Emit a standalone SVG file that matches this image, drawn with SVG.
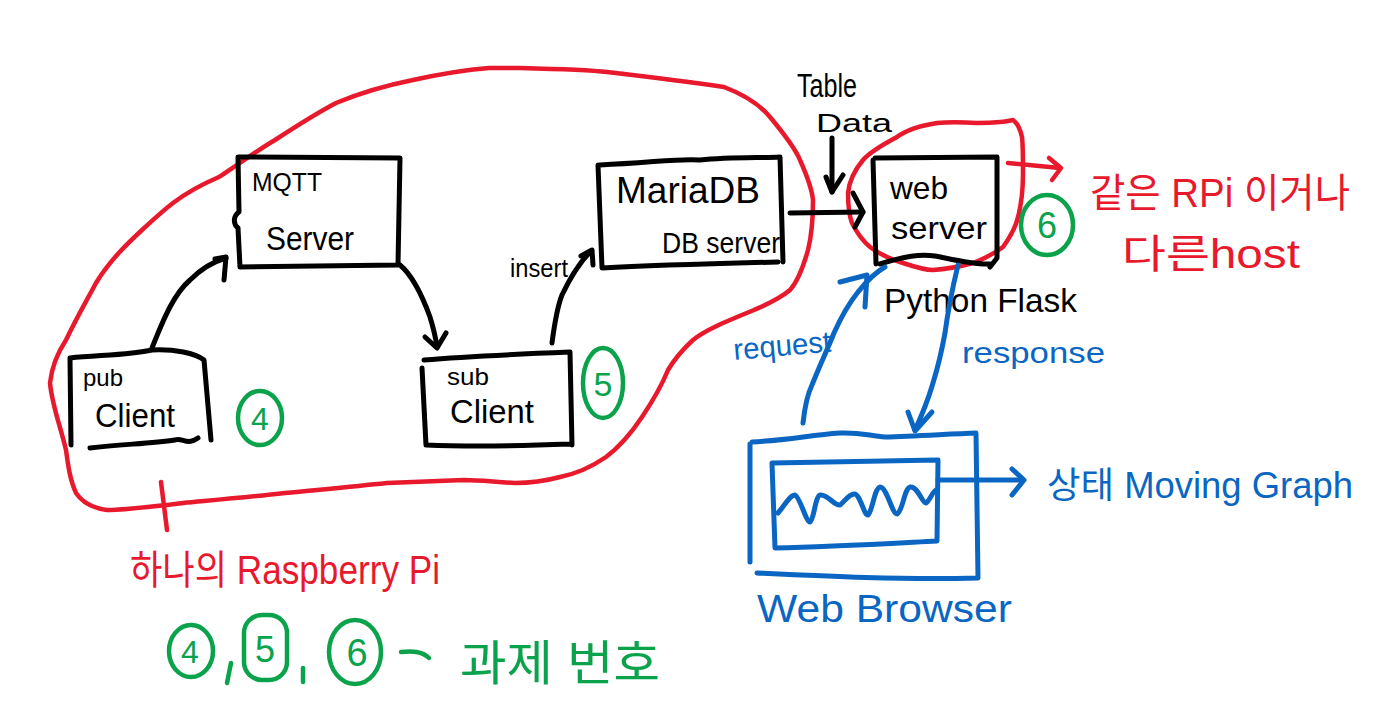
<svg xmlns="http://www.w3.org/2000/svg" width="1395" height="714" viewBox="0 0 1395 714">
<style>
.k{fill:none;stroke:#000;stroke-width:5;stroke-linecap:round;stroke-linejoin:round}
.r{fill:none;stroke:#e8192c;stroke-width:4.5;stroke-linecap:round;stroke-linejoin:round}
.b{fill:none;stroke:#0a66c2;stroke-width:5;stroke-linecap:round;stroke-linejoin:round}
.g{fill:none;stroke:#0aa24b;stroke-width:4.5;stroke-linecap:round;stroke-linejoin:round}
text{font-family:"Liberation Sans","Noto Sans CJK KR",sans-serif;}
.tk{fill:#000}
.tr{fill:#e8192c}
.tb{fill:#0a66c2}
.tg{fill:#0aa24b}
</style>
<rect width="1395" height="714" fill="#fff"/>

<!-- Red group outline (one Raspberry Pi) -->
<g id="rpi-boundary">
<path class="r" d="M520,68 C560,69 590,70 607,72 C650,77 690,82 724,87 C745,95 760,105 770,117 C785,135 795,148 800,160 C808,178 812,190 813,200 C813,220 811,238 808,250 C803,268 797,282 790,290 C778,300 765,305 754,310 C725,322 705,330 693,340 C682,350 674,360 668,370 C660,390 650,405 642,417 C630,435 618,448 606,457 C590,468 575,474 560,477 C545,481 530,483 515,483 C495,482 480,480 464,480 C435,481 410,482 387,483 C350,487 315,490 285,493 C250,497 215,500 183,503 C150,507 125,510 107,510 C92,508 82,502 76,493 C70,480 68,465 66,450 C60,425 52,405 50,383 C52,365 58,352 66,340 C78,315 88,298 96,283 C110,260 128,243 142,230 C155,218 165,209 173,203 C190,190 205,183 219,177 C240,163 258,150 275,140 C295,127 315,114 336,103 C360,93 388,85 413,80 C440,74 465,70 489,68 Z"/>
<path class="r" d="M161,482 L167,530"/>
</g>

<!-- Red loop around web server -->
<g id="webserver-boundary">
<path class="r" d="M937,123 C918,126 905,131 897,137 C882,145 870,152 863,160 C853,172 849,183 848,193 C848,205 849,215 852,223 C858,235 864,242 870,247 C882,256 893,260 903,263 C915,267 925,270 933,270 C950,269 962,266 973,263 C987,258 996,252 1003,247 C1011,236 1016,226 1018,217 C1022,202 1023,187 1023,173 C1023,158 1023,146 1022,137 C1020,128 1017,123 1013,120 C1007,121 1004,122 1000,122 C990,123 984,123 977,123 C960,122 948,122 937,123"/>
</g>

<!-- Nodes -->
<g id="mqtt-server">
<path class="k" d="M238,157 L400,158 L398,265 L240,267 M238,157 L239,212 C233,216 233,224 238,228 L240,267"/>
<text class="tk" x="252" y="191" font-size="26" textLength="70" lengthAdjust="spacingAndGlyphs">MQTT</text>
<text class="tk" x="266" y="250" font-size="34" textLength="88" lengthAdjust="spacingAndGlyphs">Server</text>
</g>

<g id="pub-client">
<path class="k" d="M70,358 C100,355 130,355 152,350 C175,349 195,353 204,360 L211,440 M70,358 L71,445 M90,448 C120,444 150,444 175,440 C182,437 187,446 198,438"/>
<text class="tk" x="83" y="386" font-size="24" textLength="40" lengthAdjust="spacingAndGlyphs">pub</text>
<text class="tk" x="95" y="427" font-size="34" textLength="80" lengthAdjust="spacingAndGlyphs">Client</text>
</g>

<g id="sub-client">
<path class="k" d="M424,360 C470,356 520,354 570,352 L572,445 M422,368 L426,445 C470,447 520,446 570,444"/>
<text class="tk" x="447" y="385" font-size="24" textLength="42" lengthAdjust="spacingAndGlyphs">sub</text>
<text class="tk" x="450" y="423" font-size="34" textLength="84" lengthAdjust="spacingAndGlyphs">Client</text>
</g>

<g id="mariadb">
<path class="k" d="M600,165 C650,163 680,158 700,160 C730,157 760,158 780,157 L783,262 M598,165 L602,268 C640,266 700,264 778,262"/>
<text class="tk" x="616" y="203" font-size="36" textLength="144" lengthAdjust="spacingAndGlyphs">MariaDB</text>
<text class="tk" x="662" y="253" font-size="30" textLength="118" lengthAdjust="spacingAndGlyphs">DB server</text>
</g>

<g id="web-server">
<path class="k" d="M873,160 L876,264 M875,158 L997,157 L997,258 L990,267 M880,264 C905,256 920,254 935,256 C955,260 975,265 990,264"/>
<text class="tk" x="890" y="199" font-size="32" textLength="58" lengthAdjust="spacingAndGlyphs">web</text>
<text class="tk" x="891" y="239" font-size="32" textLength="96" lengthAdjust="spacingAndGlyphs">server</text>
</g>

<g id="python-flask">
<text class="tk" x="884" y="312" font-size="34" textLength="193" lengthAdjust="spacingAndGlyphs">Python Flask</text>
</g>

<g id="table-data">
<text class="tk" x="797" y="97" font-size="34" textLength="60" lengthAdjust="spacingAndGlyphs">Table</text>
<text class="tk" x="816" y="132" font-size="26" textLength="76" lengthAdjust="spacingAndGlyphs">Data</text>
</g>

<g id="web-browser">
<path class="b" d="M752,442 C790,440 810,435 840,433 C860,432 870,436 885,437 C915,436 950,434 976,433 L978,578 M750,444 L750,562 M757,573 C820,576 900,580 978,578"/>
<path class="b" d="M772,463 L938,460 L937,541 C880,544 830,547 775,548 L772,463"/>
<path class="b" d="M778,513 C785,505 790,495 795,495 C800,497 806,522 810,522 C814,520 815,497 820,495 C828,494 834,506 840,505 C844,502 848,495 854,494 C860,493 864,516 868,515 C873,510 874,489 880,487 C887,487 892,514 897,514 C903,511 904,489 910,487 C918,486 922,503 926,503 C930,500 933,491 936,490"/>
<text class="tb" x="757" y="622" font-size="38" textLength="255" lengthAdjust="spacingAndGlyphs">Web Browser</text>
</g>

<g id="labels-red">
<text class="tr" x="1090" y="207" font-size="40" textLength="260" lengthAdjust="spacingAndGlyphs">같은 RPi 이거나</text>
<text class="tr" x="1122" y="268" font-size="40" textLength="178" lengthAdjust="spacingAndGlyphs">다른host</text>
<text class="tr" x="130" y="584" font-size="40" textLength="310" lengthAdjust="spacingAndGlyphs">하나의 Raspberry Pi</text>
</g>

<g id="labels-blue">
<text class="tb" x="733" y="356" font-size="30" textLength="98" lengthAdjust="spacingAndGlyphs" transform="rotate(-5 780 345)">request</text>
<text class="tb" x="962" y="363" font-size="30" textLength="143" lengthAdjust="spacingAndGlyphs">response</text>
<text class="tb" x="1047" y="498" font-size="36" textLength="306" lengthAdjust="spacingAndGlyphs">상태 Moving Graph</text>
</g>

<g id="task-numbers">
<ellipse class="g" cx="260" cy="418" rx="22" ry="27"/>
<text class="tg" x="260" y="430" font-size="32" text-anchor="middle">4</text>
<ellipse class="g" cx="603" cy="383" rx="20" ry="35"/>
<text class="tg" x="603" y="396" font-size="34" text-anchor="middle">5</text>
<ellipse class="g" cx="1047" cy="225" rx="26" ry="30"/>
<text class="tg" x="1047" y="238" font-size="36" text-anchor="middle">6</text>
</g>

<g id="legend">
<ellipse class="g" cx="191" cy="651" rx="22" ry="26"/>
<text class="tg" x="190" y="663" font-size="32" text-anchor="middle">4</text>
<path class="g" d="M231,663 L227,683"/>
<rect class="g" x="244" y="615" width="43" height="65" rx="18"/>
<text class="tg" x="265" y="662" font-size="36" text-anchor="middle">5</text>
<path class="g" d="M303,668 L303,682"/>
<ellipse class="g" cx="355" cy="652" rx="26" ry="32"/>
<text class="tg" x="357" y="666" font-size="38" text-anchor="middle">6</text>
<path class="g" d="M401,652 C412,651 422,651 429,658"/>
<text class="tg" x="460" y="680" font-size="48" textLength="200" lengthAdjust="spacingAndGlyphs">과제 번호</text>
</g>

<!-- Connectors -->
<g id="connectors">
<path class="k" d="M152,348 C165,315 175,293 190,280 C200,270 212,262 226,258"/>
<path class="k" d="M215,259 L226,257 L224,280"/>
<path class="k" d="M400,265 C412,275 422,295 430,317 C434,330 436,340 437,347"/>
<path class="k" d="M425,337 L437,348 L446,333"/>
<path class="k" d="M552,343 C555,320 558,305 562,295 C570,278 580,262 591,251"/>
<path class="k" d="M581,256 L592,250 L593,265"/>
<text class="tk" x="510" y="277" font-size="26" textLength="58" lengthAdjust="spacingAndGlyphs">insert</text>
<path class="k" d="M790,213 L863,212"/>
<path class="k" d="M853,193 L863,212 L855,227"/>
<path class="k" d="M832,138 L832,192"/>
<path class="k" d="M826,177 L832,192 L843,175"/>
<path class="r" d="M1008,163 L1060,168"/>
<path class="r" d="M1049,158 L1061,168 L1052,180"/>
<path class="b" d="M803,423 C805,405 808,393 812,385 C820,365 828,348 834,333 C842,315 850,302 858,292 C866,282 876,272 885,267"/>
<path class="b" d="M840,282 L867,275 L865,307"/>
<path class="b" d="M958,265 C952,290 948,310 945,333 C941,355 937,370 933,383 C928,400 922,415 915,430"/>
<path class="b" d="M908,412 L915,431 L932,412"/>
<path class="b" d="M938,480 L1023,480"/>
<path class="b" d="M1012,469 L1024,480 L1012,495"/>
</g>
</svg>
